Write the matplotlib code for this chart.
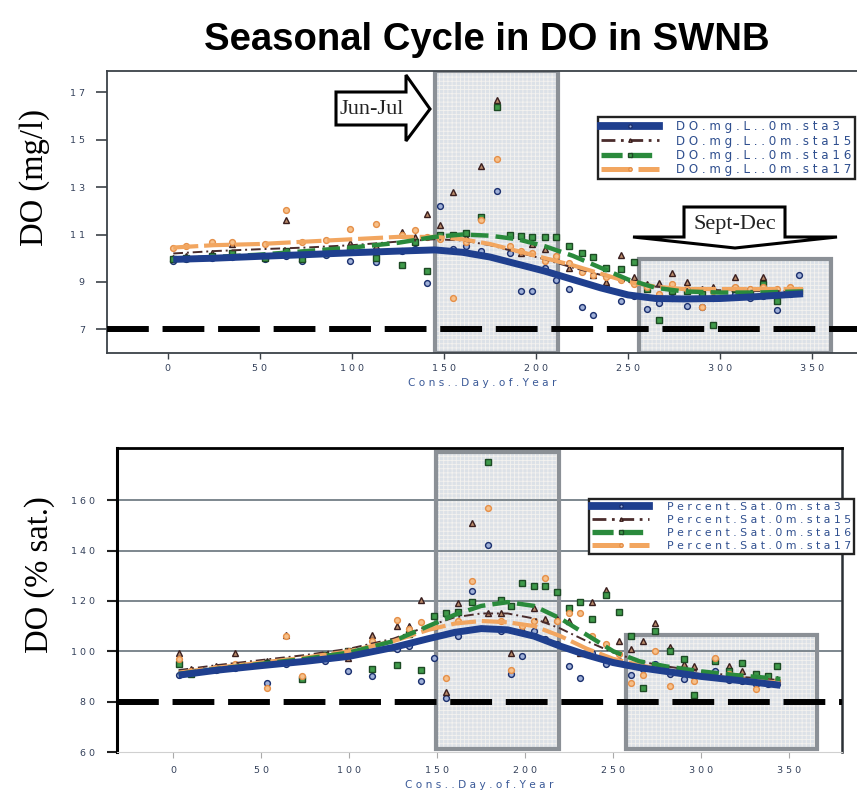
import matplotlib
matplotlib.use("Agg")
import matplotlib.pyplot as plt
from matplotlib.patches import Rectangle, Polygon
from matplotlib.lines import Line2D
from matplotlib.ticker import FuncFormatter, FixedLocator

W, H = 857, 791

# ---------------- data ----------------
days = [3, 10, 24, 35, 53, 64, 73, 86, 99, 113, 127, 134, 141, 148, 155, 162, 170,
        179, 186, 192, 198, 205, 211, 218, 225, 231, 238, 246, 253, 260, 267, 274,
        282, 290, 296, 308, 316, 323, 331, 338, 343]

# dissolved oxygen, mg/L (surface, 0 m)
do_sta3 = [9.9, 9.95, 10.0, 10.05, 9.95, 10.1, 9.9, 10.15, 9.9, 9.85, 10.3, 10.4, 8.95,
           12.2, 10.4, 10.5, 10.3, 12.85, 10.2, 8.6, 8.6, 9.6, 9.1, 8.7, 7.95, 7.6, 8.8,
           8.2, 8.4, 7.85, 8.1, 8.3, 8.0, 7.95, 8.3, 8.5, 8.3, 8.4, 7.8, 8.5, 9.3]
do_sta15 = [10.0, 10.1, 10.2, 10.6, 10.1, 11.6, 10.0, 10.3, 10.65, 10.5, 11.1, 10.9, 11.85,
            11.4, 12.8, 10.9, 13.9, 16.67, 11.0, 10.2, 10.6, 10.4, 10.0, 9.6, 9.5, 9.3, 9.0,
            10.15, 9.2, 8.9, 8.95, 9.38, 9.0, 8.7, 8.8, 9.2, 8.7, 9.2, 8.6, 8.7, 8.6]
do_sta16 = [9.95, 10.0, 10.1, 10.2, 10.0, 10.3, 9.95, 10.2, 10.35, 10.0, 9.7, 10.7, 9.45,
            11.0, 11.0, 11.05, 11.75, 16.36, 11.0, 10.95, 10.9, 10.9, 10.9, 10.5, 10.2, 10.06,
            9.6, 9.55, 9.85, 8.7, 7.4, 8.6, 8.6, 8.5, 7.2, 8.7, 8.6, 8.9, 8.2, 8.6, 8.6]
do_sta17 = [10.45, 10.5, 10.7, 10.7, 10.6, 12.05, 10.7, 10.75, 11.25, 11.45, 11.0, 11.2, 10.9,
            10.8, 8.3, 10.7, 11.6, 14.2, 10.5, 10.3, 10.2, 9.9, 10.1, 9.8, 9.4, 9.3, 9.2,
            9.1, 8.9, 8.8, 8.5, 8.9, 8.7, 7.95, 8.6, 8.8, 8.7, 8.8, 8.7, 8.8, 8.65]

# percent saturation (surface, 0 m)
sat_sta3 = [90.5, 91.5, 92.5, 93.5, 87.5, 95, 89.5, 96, 92, 90, 101, 102, 88, 97.5, 81.6,
            106, 124, 142, 108, 91, 98, 108, 105, 103, 94, 89.5, 99.5, 94.8, 96, 90.7, 93,
            95, 91, 89, 90, 92, 88.5, 88, 87, 87, 87]
sat_sta15 = [99.5, 93, 94, 99.4, 96, 106.6, 96.5, 98.5, 97.5, 106.6, 110, 110, 120.5, 110,
             84, 119, 151, 115, 115, 99.5, 109, 117, 113, 113, 112, 99.5, 119.4, 124.5, 104,
             101, 104, 111.4, 101.5, 95, 94, 97.5, 94, 92, 89, 90, 89]
sat_sta16 = [95, 91, 93, 94, 95.5, 96, 89, 98.5, 100, 93, 94.7, 107, 92.7, 114, 115, 115.5,
             119.7, 175.1, 120.5, 118, 127, 125.8, 125.8, 123.7, 117, 119.4, 113, 122.4, 115.4,
             106, 85.5, 108, 100, 97, 82.8, 96, 92, 95.5, 91, 90, 94]
sat_sta17 = [97, 92, 93.5, 95, 85.5, 106, 90, 98, 100, 104, 112.6, 109, 111.6, 110, 89.5,
             112, 128, 157, 112, 92.7, 110, 112, 129, 112, 115, 115, 106, 103, 99, 87.4, 90.7,
             100, 86.4, 92, 88, 97.5, 91, 89, 85, 88, 88]

# smoothed seasonal curves
trend_days = [3, 25, 50, 75, 100, 125, 145, 160, 175, 190, 205, 220, 235, 250, 265, 280,
              300, 320, 345]
do_trend_sta3 = [9.95, 10.0, 10.08, 10.15, 10.23, 10.3, 10.35, 10.25, 10.05, 9.75, 9.45,
                 9.1, 8.75, 8.45, 8.3, 8.28, 8.3, 8.38, 8.5]
do_trend_sta15 = [10.2, 10.3, 10.38, 10.45, 10.55, 10.7, 10.8, 10.75, 10.55, 10.25, 9.95,
                  9.6, 9.3, 9.0, 8.8, 8.7, 8.65, 8.62, 8.6]
do_trend_sta16 = [9.95, 10.05, 10.15, 10.3, 10.45, 10.65, 10.9, 11.0, 10.95, 10.8, 10.5,
                  10.1, 9.6, 9.1, 8.75, 8.6, 8.55, 8.55, 8.6]
do_trend_sta17 = [10.45, 10.55, 10.6, 10.7, 10.8, 10.9, 10.9, 10.8, 10.6, 10.3, 10.0, 9.7,
                  9.35, 9.0, 8.8, 8.7, 8.7, 8.7, 8.7]
sat_trend_sta3 = [90.5, 92.5, 94.3, 96, 98, 101.5, 105, 107.5, 109, 108.5, 106, 102, 98.5,
                  95.5, 93.5, 92, 90, 88.5, 86.5]
sat_trend_sta15 = [92.5, 94.5, 96.5, 98.5, 101, 105, 110, 113.5, 115, 115, 113, 109, 104,
                   99.5, 96, 94, 92, 90, 88.5]
sat_trend_sta16 = [91, 93, 95, 97, 99.5, 104, 110, 114.5, 118, 119.5, 118, 113, 106.5, 100,
                   96, 94, 92, 90.5, 89]
sat_trend_sta17 = [91.5, 93.5, 95.5, 97.5, 100, 104, 108.5, 111, 112, 111.5, 110, 106, 101,
                   97, 94.5, 92.5, 90.5, 89, 87.5]

do_labels = ["DO.mg.L..0m.sta3", "DO.mg.L..0m.sta15", "DO.mg.L..0m.sta16", "DO.mg.L..0m.sta17"]
sat_labels = ["Percent.Sat.0m.sta3", "Percent.Sat.0m.sta15", "Percent.Sat.0m.sta16",
              "Percent.Sat.0m.sta17"]

x_ticks = [0, 50, 100, 150, 200, 250, 300, 350]
do_yticks = [7, 9, 11, 13, 15, 17]
sat_yticks = [60, 80, 100, 120, 140, 160]

do_threshold = 7
sat_threshold = 80

# seasonal windows (day of year) and height of the autumn box
junjul_do = (145, 212)
septdec_do = (256, 360, 9.95)
junjul_sat = (149, 219)
septdec_sat = (257, 366, 106.4)

# ---------------- styling ----------------
styles = [
    dict(color="#1f3f8e", lw=5.0, ls="-", marker="o", mfc="#9fb0d8", mec="#1a2f6e"),
    dict(color="#4a2c2c", lw=1.4, ls=(0, (5, 2, 1, 2)), marker="^", mfc="#b98a6a", mec="#3a1f1f"),
    dict(color="#2a8a3c", lw=3.2, ls=(0, (4, 1.6)), marker="s", mfc="#3f9a4a", mec="#1d4a24"),
    dict(color="#f2a660", lw=3.0, ls=(0, (6, 1.4)), marker="o", mfc="#f6c08a", mec="#e58f48"),
]

TICK_COL = "#33405a"
BOX_FILL = "#dce1e7"
BOX_HATCH = "#f4f2ef"
BOX_EDGE = "#8b9096"

plt.rcParams["hatch.linewidth"] = 0.6


def fx(px):
    return px / W


def fy(py):
    return 1 - py / H


def spaced(s):
    return " ".join(s)


spaced_fmt = FuncFormatter(lambda v, pos: spaced(str(int(round(v)))))

fig = plt.figure(figsize=(W / 100, H / 100), dpi=100)
fig.patch.set_facecolor("white")


def season_box(ax, x0, x1, y0, y1):
    ax.add_patch(Rectangle((x0, y0), x1 - x0, y1 - y0, facecolor=BOX_FILL,
                           edgecolor=BOX_HATCH, hatch="++++", lw=0, zorder=0.5))
    ax.add_patch(Rectangle((x0, y0), x1 - x0, y1 - y0, fill=False,
                           edgecolor=BOX_EDGE, lw=3.0, zorder=1.5))


def draw_panel(ax, series, trends):
    for vals, st in zip(series, styles):
        ax.plot(days, vals, ls="none", marker=st["marker"], ms=4.2, mfc=st["mfc"],
                mec=st["mec"], mew=1.0, zorder=2)
    order = [1, 3, 2, 0]
    for i in order:
        st = styles[i]
        ax.plot(trend_days, trends[i], color=st["color"], lw=st["lw"], ls=st["ls"],
                zorder=3 + (i == 0) * 0.5, solid_capstyle="butt")


def legend_handles():
    hs = []
    for st in styles:
        hs.append(Line2D([0], [0], color=st["color"], lw=st["lw"] + 0.6, ls=st["ls"],
                         marker=st["marker"], ms=2.5, mfc=st["mfc"], mec=st["mec"]))
    return hs


def add_legend(ax, labels, left_px, top_px, size, spacing):
    leg = ax.legend(legend_handles(), [spaced(s) for s in labels], loc="upper left",
                    bbox_to_anchor=(fx(left_px), fy(top_px)), bbox_transform=fig.transFigure,
                    frameon=True, fancybox=False, framealpha=1, edgecolor="#222222",
                    handlelength=5.3 * 7.8 / size, handletextpad=1.6 * 7.8 / size,
                    borderpad=0.28, labelspacing=spacing, borderaxespad=0, numpoints=1,
                    prop=dict(size=size), labelcolor="#2f4f8f")
    leg.get_frame().set_linewidth(1.7)
    leg.set_zorder(6)
    return leg


# ---------------- top panel: DO (mg/l) ----------------
ax1 = fig.add_axes([fx(107), fy(353), fx(862) - fx(107), fy(71) - fy(353)])
ax1.set_xlim(-33, 377)
ax1.set_ylim(6.0, 17.9)
season_box(ax1, junjul_do[0], junjul_do[1], 6.0, 17.9)
season_box(ax1, septdec_do[0], septdec_do[1], 6.0, septdec_do[2])
draw_panel(ax1, [do_sta3, do_sta15, do_sta16, do_sta17],
           [do_trend_sta3, do_trend_sta15, do_trend_sta16, do_trend_sta17])
ax1.axhline(do_threshold, color="black", lw=4.3, ls=(0, (7, 2.3)), zorder=5)
ax1.spines["right"].set_visible(False)
for side in ("left", "top", "bottom"):
    ax1.spines[side].set_color("#3c4248")
    ax1.spines[side].set_linewidth(1.3)
ax1.xaxis.set_major_locator(FixedLocator(x_ticks))
ax1.yaxis.set_major_locator(FixedLocator(do_yticks))
ax1.xaxis.set_major_formatter(spaced_fmt)
ax1.yaxis.set_major_formatter(spaced_fmt)
ax1.tick_params(axis="y", direction="out", length=8, width=1.2, pad=8,
                labelsize=6.8, labelcolor=TICK_COL, color="#3c4248")
ax1.tick_params(axis="x", direction="out", length=4, width=1.0, pad=4,
                labelsize=6.8, labelcolor=TICK_COL, color="#3c4248")
add_legend(ax1, do_labels, 598, 117, 8.6, 0.1)

# ---------------- bottom panel: DO (% sat.) ----------------
ax2 = fig.add_axes([fx(117), fy(752), fx(842) - fx(117), fy(448) - fy(752)])
ax2.set_xlim(-32, 380)
ax2.set_ylim(60, 180.7)
for v in sat_yticks[2:]:
    ax2.axhline(v, color="#7d878e", lw=1.4, zorder=0.8)
season_box(ax2, junjul_sat[0], junjul_sat[1], 61, 179)
season_box(ax2, septdec_sat[0], septdec_sat[1], 61, septdec_sat[2])
draw_panel(ax2, [sat_sta3, sat_sta15, sat_sta16, sat_sta17],
           [sat_trend_sta3, sat_trend_sta15, sat_trend_sta16, sat_trend_sta17])
ax2.axhline(sat_threshold, color="black", lw=4.3, ls=(0, (7, 2.3)), zorder=5)
ax2.spines["left"].set_color("black")
ax2.spines["left"].set_linewidth(2.2)
ax2.spines["top"].set_color("black")
ax2.spines["top"].set_linewidth(2.0)
ax2.spines["right"].set_color("#2b3035")
ax2.spines["right"].set_linewidth(1.8)
ax2.spines["bottom"].set_color("#d0d0d0")
ax2.spines["bottom"].set_linewidth(0.8)
ax2.xaxis.set_major_locator(FixedLocator(x_ticks))
ax2.yaxis.set_major_locator(FixedLocator(sat_yticks))
ax2.xaxis.set_major_formatter(spaced_fmt)
ax2.yaxis.set_major_formatter(spaced_fmt)
ax2.tick_params(axis="y", direction="out", length=7, width=1.5, pad=9,
                labelsize=6.8, labelcolor=TICK_COL, color="#222222")
ax2.tick_params(axis="x", direction="out", length=4, width=0.8, pad=6,
                labelsize=6.8, labelcolor=TICK_COL, color="#aaaaaa")
add_legend(ax2, sat_labels, 589, 499, 7.8, 0.28)

# ---------------- titles and labels ----------------
fig.text(fx(487), fy(40), "Seasonal Cycle in DO in SWNB", ha="center", va="center",
         fontsize=27.5, fontweight="bold", family="Liberation Sans")
fig.text(fx(35), fy(177), "DO (mg/l)", rotation=90, ha="center", va="center",
         fontsize=23.5, family="Liberation Serif")
fig.text(fx(40), fy(575), "DO (% sat.)", rotation=90, ha="center", va="center",
         fontsize=23.5, family="Liberation Serif")
fig.text(fx(482), fy(383), spaced("Cons..Day.of.Year"), ha="center", va="center",
         fontsize=7.6, color="#3b5a98")
fig.text(fx(479), fy(785), spaced("Cons..Day.of.Year"), ha="center", va="center",
         fontsize=7.6, color="#3b5a98")

# ---------------- callout arrows ----------------
def pts(seq):
    return [(fx(a), fy(b)) for a, b in seq]


jun_arrow = Polygon(pts([(336, 92), (406, 92), (406, 75), (430, 109), (406, 141),
                         (406, 125), (336, 125)]),
                    closed=True, transform=fig.transFigure, facecolor="white",
                    edgecolor="black", lw=2.2, zorder=10)
fig.patches.append(jun_arrow)
fig.text(fx(372), fy(109), "Jun-Jul", ha="center", va="center", fontsize=16,
         family="Liberation Serif", color="#222222", zorder=11)

sep_arrow = Polygon(pts([(684, 207), (785, 207), (785, 237), (837, 237), (735, 248),
                         (633, 237), (684, 237)]),
                    closed=True, transform=fig.transFigure, facecolor="white",
                    edgecolor="black", lw=2.2, zorder=10)
fig.patches.append(sep_arrow)
fig.text(fx(735), fy(224), "Sept-Dec", ha="center", va="center", fontsize=16,
         family="Liberation Serif", color="#222222", zorder=11)

fig.savefig("out.png", dpi=100)
